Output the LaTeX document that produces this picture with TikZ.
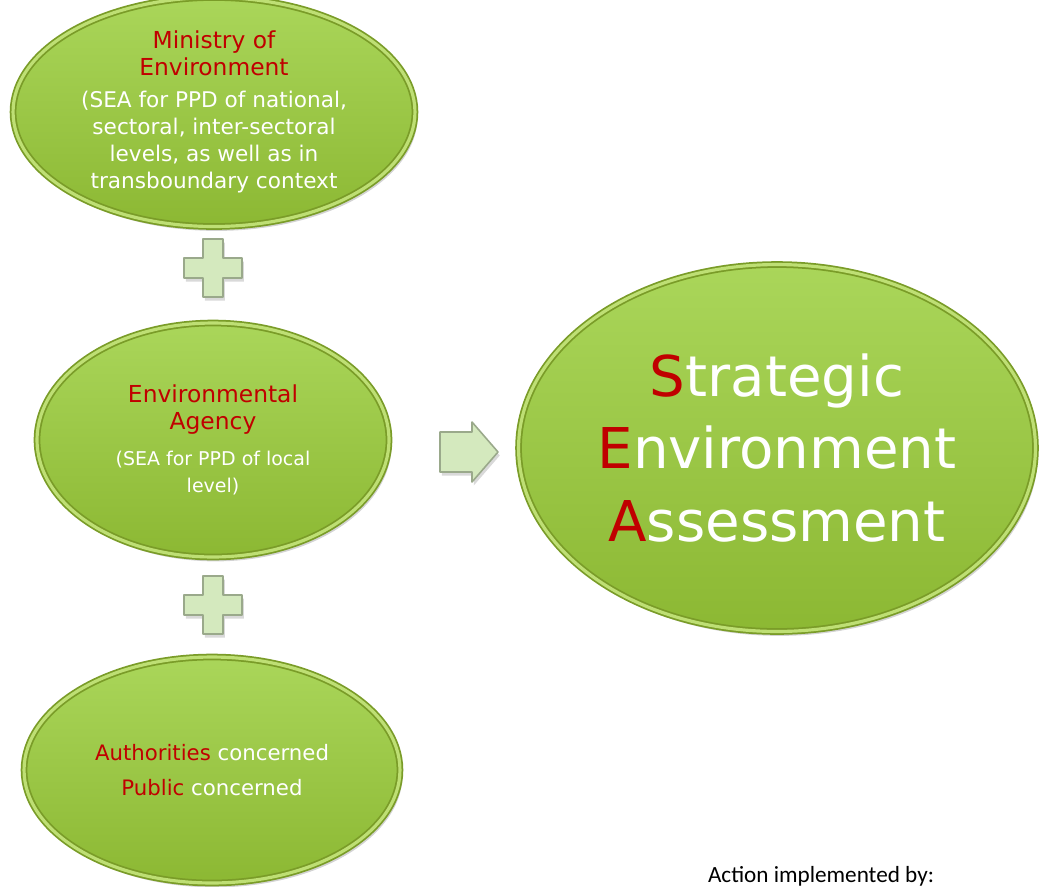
\documentclass[tikz,border=0pt]{standalone}
\usepackage{fontspec}
\setmainfont{DejaVu Sans}
\newfontfamily\notefont{Carlito}
\usetikzlibrary{shapes.geometric, shadows, positioning}

\definecolor{leaftop}{HTML}{AAD65A}
\definecolor{leafbot}{HTML}{8CB833}
\definecolor{leafrim}{HTML}{7A9C28}
\definecolor{leaflight}{HTML}{BEDF74}
\definecolor{seared}{HTML}{C00000}
\definecolor{plusfill}{HTML}{D4E9BE}
\definecolor{plusedge}{HTML}{9AA98B}

\newcommand{\titlesize}{\fontsize{13.3}{15.3}\selectfont}
\newcommand{\subline}{\fontsize{12.3}{14.3}\selectfont\color{white}}
\newcommand{\localline}{\fontsize{10.8}{12.5}\selectfont\color{white}}
\newcommand{\redword}[1]{\textcolor{seared}{#1}}

\begin{document}
\begin{tikzpicture}[x=0.02cm, y=-0.02cm,
	leaf/.style = {ellipse, inner sep=0pt, align=center, text=white,
		top color=leaftop, bottom color=leafbot,
		draw=leafrim, line width=1pt, double=leaflight, double distance=1.8pt,
		drop shadow={opacity=0.35, shadow xshift=1.5pt, shadow yshift=-2.5pt}},
	plusbox/.style = {fill=plusfill, draw=plusedge, line width=0.9pt, line join=round,
		drop shadow={opacity=0.3, shadow xshift=1pt, shadow yshift=-2pt}}]
	\useasboundingbox (0,0) rectangle (1040,886);

	\node[leaf, font=\titlesize, text=seared, minimum width=8.04cm, minimum height=4.32cm] (ministry) at (214,112)
		{Ministry of\\Environment\\[3pt]
		 \subline(SEA for PPD of national,\\\subline sectoral, inter-sectoral\\
		 \subline levels, as well as in\\\subline transboundary context};
	\node[leaf, font=\titlesize, text=seared, minimum width=7.04cm, minimum height=4.68cm] (agency) at (213,440)
		{Environmental\\Agency\\[5pt]
		 \localline(SEA for PPD of local\\\localline level)};
	\node[leaf, font=\fontsize{12.1}{14}\selectfont, minimum width=7.52cm, minimum height=4.52cm] (public) at (212,770)
		{\redword{Authorities} concerned\\[6pt]
		 \redword{Public} concerned};
	\node[leaf, font=\fontsize{32}{41.5}\selectfont, minimum width=10.34cm, minimum height=7.34cm] (sea) at (777,448)
		{\redword{S}trategic\\\redword{E}nvironment\\\redword{A}ssessment};

	% plus signs between the bodies
	\foreach \y in {268,605}
		\draw[plusbox, shift={(213,\y)}] (-10,-29) -- (10,-29) -- (10,-10) -- (29,-10) -- (29,10)
			-- (10,10) -- (10,29) -- (-10,29) -- (-10,10) -- (-29,10) -- (-29,-10) -- (-10,-10) -- cycle;

	% block arrow towards SEA
	\draw[plusbox, shift={(469,452)}] (-29,-20) -- (3,-20) -- (3,-30) -- (29,0) -- (3,30)
		-- (3,20) -- (-29,20) -- cycle;

	\node[anchor=base, font=\notefont\fontsize{13.2}{15}\selectfont] (note) at (821,882) {Action implemented by:};
\end{tikzpicture}
\end{document}
